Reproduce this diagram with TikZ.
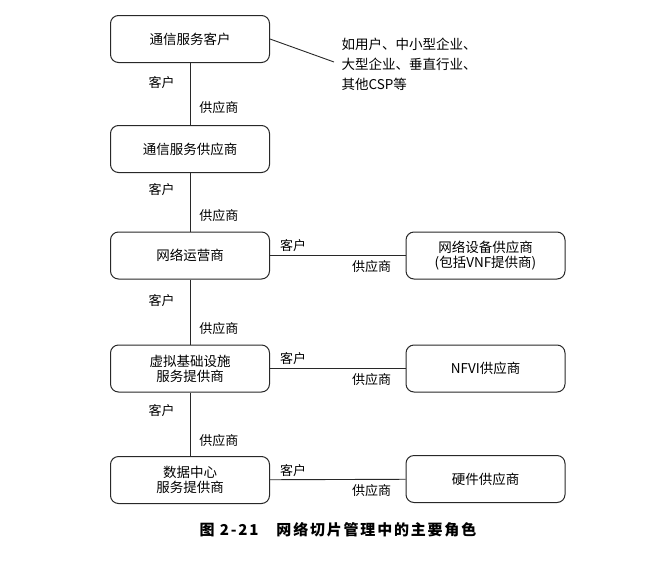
\documentclass[tikz,border=0pt]{standalone}
\usepackage{fontspec}
\setmainfont{Noto Sans CJK SC}
\usepackage{tikz}
\usetikzlibrary{positioning,calc}
\definecolor{boxline}{RGB}{40,40,40}

\begin{document}
\begin{tikzpicture}[x=1pt, y=-1pt,
    role/.style={rectangle, rounded corners=8pt, draw=boxline, line width=1pt,
                 minimum width=159pt, minimum height=47pt, align=center,
                 font=\fontsize{13.5}{17}\selectfont},
    tag/.style={font=\fontsize{13}{15}\selectfont, inner sep=1pt},
    link/.style={draw=boxline, line width=0.9pt}]

    \useasboundingbox (0,0) rectangle (655,570);

    % Main chain
    \node[role] (cust) at (190,39) {通信服务客户};
    \node[role] (csp) at (190,149) {通信服务供应商};
    \node[role] (nop) at (190,255.5) {网络运营商};
    \node[role] (nfvi) at (190,368.5) {虚拟基础设施\\[-2pt]服务提供商};
    \node[role] (dc) at (190,480) {数据中心\\[-2pt]服务提供商};

    % Suppliers
    \node[role] (nep) at (485.5,255.5) {网络设备供应商\\[-2pt](包括VNF提供商)};
    \node[role] (nfvs) at (485.5,368.5) {NFVI供应商};
    \node[role] (hw) at (485.5,479) {硬件供应商};

    % Examples of customers
    \node[font=\fontsize{13.5}{20}\selectfont, align=left, anchor=west] (ex) at (338,64)
        {如用户、中小型企业、\\大型企业、垂直行业、\\其他CSP等};
    \coordinate (exin) at (334,62);
    \draw[link] (cust.east) -- (exin);

    % Vertical links
    \draw[link] (cust) -- node[tag, pos=0.32, left=14pt]{客户} node[tag, pos=0.72, right=8pt]{供应商} (csp);
    \draw[link] (csp) -- node[tag, pos=0.28, left=14pt]{客户} node[tag, pos=0.72, right=8pt]{供应商} (nop);
    \draw[link] (nop) -- node[tag, pos=0.32, left=14pt]{客户} node[tag, pos=0.76, right=8pt]{供应商} (nfvi);
    \draw[link] (nfvi) -- node[tag, pos=0.28, left=14pt]{客户} node[tag, pos=0.76, right=8pt]{供应商} (dc);

    % Horizontal links
    \draw[link] (nop) -- node[tag, pos=0.17, above=2pt]{客户} node[tag, pos=0.75, below=4pt]{供应商} (nep);
    \draw[link] (nfvi) -- node[tag, pos=0.17, above=2pt]{客户} node[tag, pos=0.75, below=4pt]{供应商} (nfvs);
    \draw[link] (dc) -- node[tag, pos=0.17, above=2pt]{客户} node[tag, pos=0.75, below=4pt]{供应商} (hw);

    % Caption
    \node[font=\fontsize{15}{18}\selectfont\bfseries] (cap) at (338,530)
        {\addfontfeature{LetterSpace=12}图 2-21\hspace{18pt}网络切片管理中的主要角色};
\end{tikzpicture}
\end{document}
